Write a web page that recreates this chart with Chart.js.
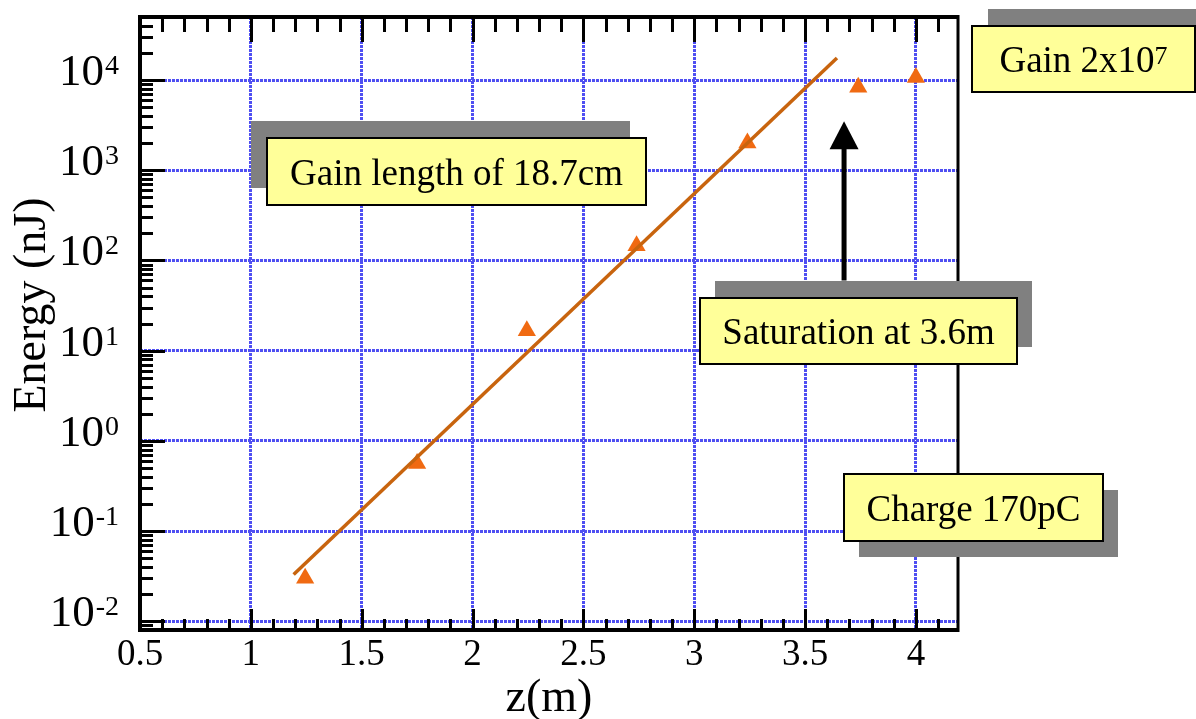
<!DOCTYPE html>
<html><head><meta charset="utf-8">
<script src="https://cdn.jsdelivr.net/npm/chart.js@4/dist/chart.umd.min.js"></script>
<style>html,body{margin:0;padding:0;background:#fff;overflow:hidden}#wrap{width:1196px;height:719px;position:relative}</style>
</head><body><div id="wrap"><canvas id="c" width="1196" height="719"></canvas></div>
<script>
// ---- data ----
const zMeasured      = [1.245, 1.75, 2.245, 2.74, 3.24, 3.74, 4.0];
const energyMeasured = [0.030, 0.56, 16.6, 146, 2000, 8300, 10700];
const zFit      = [1.193, 3.644];
const energyFit = [0.033, 17600];
const xTickValues = [0.5, 1, 1.5, 2, 2.5, 3, 3.5, 4];
const xTickLabels = ['0.5', '1', '1.5', '2', '2.5', '3', '3.5', '4'];
const yTickValues = [0.01, 0.1, 1, 10, 100, 1000, 10000];
const yTickExponents = ['-2', '-1', '0', '1', '2', '3', '4'];
const xTitle = 'z(m)';
const yTitle = 'Energy (nJ)';
const arrowZ = 3.676, arrowFromEnergy = 60, arrowToEnergy = 3500;

// ---- annotation boxes (layout) ----
const boxes = [
  {parts:[{t:'Gain length of 18.7cm'}], x:267, y:138, w:379, h:67, dx:-16, dy:-17},
  {parts:[{t:'Gain 2x10'},{t:'7',sup:true}], x:972, y:26, w:223, h:66, dx:16, dy:-17},
  {parts:[{t:'Saturation at 3.6m'}], x:700, y:298, w:317, h:66, dx:15, dy:-17},
  {parts:[{t:'Charge 170pC'}], x:844, y:474, w:259, h:67, dx:15, dy:16}
];

const SERIF = "'Liberation Serif','Times New Roman',serif";
const GRID = '#4f4ff2';

const decor = {
  id: 'decor',
  afterDatasetsDraw(chart) {
    const {ctx, chartArea: a, scales: {x, y}} = chart;
    ctx.save();
    // minor / major inward ticks
    ctx.strokeStyle = '#000'; ctx.lineWidth = 3; ctx.lineCap = 'butt';
    ctx.beginPath();
    for (let i = 5; i <= 41; i++) {
      const v = i / 10, px = Math.round(x.getPixelForValue(v)) + 0.5;
      const major = i % 5 === 0;
      ctx.moveTo(px, a.bottom); ctx.lineTo(px, a.bottom - (major ? 21 : 11));
      ctx.moveTo(px, a.top); ctx.lineTo(px, a.top + (major ? 25 : 15));
    }
    for (let e = -3; e <= 4; e++) {
      for (let m = 1; m <= 9; m++) {
        const v = m * Math.pow(10, e);
        if (v < y.min || v > y.max) continue;
        const py = Math.round(y.getPixelForValue(v)) + 0.5;
        ctx.moveTo(a.left, py); ctx.lineTo(a.left + (m === 1 ? 25 : 13), py);
      }
    }
    ctx.stroke();
    // frame
    ctx.lineWidth = 4;
    ctx.beginPath();
    ctx.moveTo(a.left, a.bottom); ctx.lineTo(a.left, a.top);
    ctx.lineTo(a.right, a.top);
    ctx.moveTo(a.left - 2, a.bottom); ctx.lineTo(a.right + 1, a.bottom);
    ctx.stroke();
    ctx.lineWidth = 3;
    ctx.beginPath(); ctx.moveTo(a.right, a.top - 2); ctx.lineTo(a.right, a.bottom + 2); ctx.stroke();

    // y tick labels 10^n
    ctx.fillStyle = '#000';
    ctx.textBaseline = 'alphabetic';
    yTickValues.forEach((v, i) => {
      const py = y.getPixelForValue(v);
      const base = py + 5;
      ctx.font = '28px ' + SERIF; ctx.textAlign = 'right';
      const sw = ctx.measureText(yTickExponents[i]).width;
      ctx.fillText(yTickExponents[i], 119, base - 11);
      ctx.font = '45px ' + SERIF;
      ctx.fillText('10', 119 - sw - 1, base);
    });

    // axis titles
    ctx.font = '46px ' + SERIF; ctx.textAlign = 'center';
    ctx.fillText(xTitle, (a.left + a.right) / 2, 711);
    ctx.save(); ctx.translate(45, 305); ctx.rotate(-Math.PI / 2);
    ctx.fillText(yTitle, 0, 0); ctx.restore();

    // arrow
    const ax = x.getPixelForValue(arrowZ);
    const y1 = y.getPixelForValue(arrowFromEnergy), y2 = y.getPixelForValue(arrowToEnergy);
    ctx.fillStyle = '#000'; ctx.strokeStyle = '#000'; ctx.lineWidth = 5;
    ctx.beginPath(); ctx.moveTo(ax, y1); ctx.lineTo(ax, y2 + 26); ctx.stroke();
    ctx.beginPath(); ctx.moveTo(ax, y2); ctx.lineTo(ax - 14.5, y2 + 28); ctx.lineTo(ax + 14.5, y2 + 28); ctx.closePath(); ctx.fill();

    // boxes
    boxes.forEach(b => {
      ctx.fillStyle = '#808080';
      ctx.fillRect(b.x + b.dx, b.y + b.dy, b.w, b.h);
      ctx.fillStyle = '#ffff99';
      ctx.fillRect(b.x, b.y, b.w, b.h);
      ctx.strokeStyle = '#000'; ctx.lineWidth = 2;
      ctx.strokeRect(b.x, b.y, b.w, b.h);
      ctx.fillStyle = '#000'; ctx.textAlign = 'left'; ctx.textBaseline = 'alphabetic';
      let total = 0;
      const widths = b.parts.map(p => { ctx.font = (p.sup ? '26px ' : '37px ') + SERIF; const w = ctx.measureText(p.t).width; total += w; return w; });
      let cx = b.x + b.w / 2 - total / 2;
      const base = b.y + b.h / 2 + 13;
      b.parts.forEach((p, i) => {
        ctx.font = (p.sup ? '26px ' : '37px ') + SERIF;
        ctx.fillText(p.t, cx, p.sup ? base - 8 : base);
        cx += widths[i];
      });
    });
    ctx.restore();
  }
};

new Chart(document.getElementById('c'), {
  type: 'scatter',
  data: {
    datasets: [
      {
        type: 'line', label: 'fit',
        data: zFit.map((z, i) => ({x: z, y: energyFit[i]})),
        borderColor: '#c8640e', borderWidth: 3.5, pointRadius: 0, fill: false, tension: 0
      },
      {
        label: 'measured',
        data: zMeasured.map((z, i) => ({x: z, y: energyMeasured[i]})),
        pointStyle: 'triangle', pointRadius: 10.5, pointHoverRadius: 10.5,
        backgroundColor: '#f06a12', borderColor: '#f06a12', borderWidth: 0
      }
    ]
  },
  options: {
    responsive: false, animation: false, devicePixelRatio: 1,
    layout: {padding: {left: 0, top: 17, right: 238, bottom: 0}},
    plugins: {legend: {display: false}, tooltip: {enabled: false}},
    scales: {
      x: {
        type: 'linear', min: 0.5, max: 4.19,
        afterBuildTicks: s => { s.ticks = xTickValues.map(v => ({value: v})); },
        afterFit: s => { s.height = 89; },
        ticks: {
          callback: (v) => { const i = xTickValues.indexOf(v); return i >= 0 ? xTickLabels[i] : ''; },
          font: {family: SERIF, size: 37}, color: '#000', padding: 3, maxRotation: 0, autoSkip: false
        },
        grid: {color: GRID, lineWidth: 3, drawTicks: false},
        border: {display: false, dash: [3, 1]}
      },
      y: {
        type: 'logarithmic', min: 0.008, max: 50000,
        afterBuildTicks: s => { s.ticks = yTickValues.map(v => ({value: v})); },
        afterFit: s => { s.width = 140; },
        ticks: {display: false},
        grid: {color: GRID, lineWidth: 3, drawTicks: false},
        border: {display: false, dash: [3, 1]}
      }
    }
  },
  plugins: [decor]
});
</script>
</body></html>
